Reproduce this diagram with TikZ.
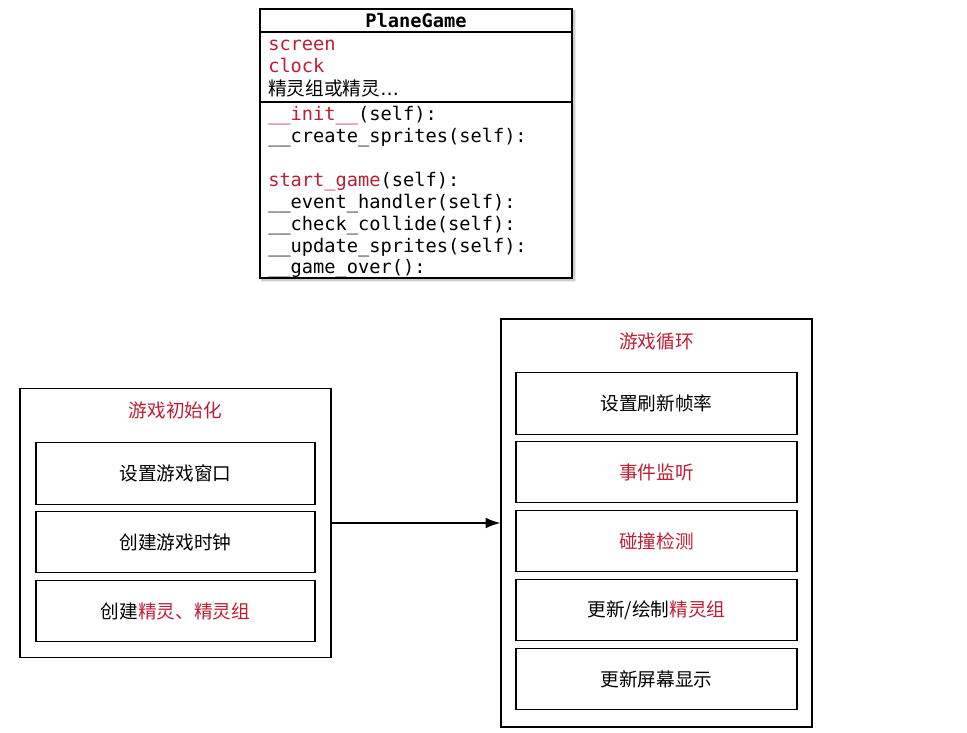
\documentclass[tikz,border=0pt]{standalone}
\usepackage{fontspec}
\setmonofont{DejaVu Sans Mono}
\newfontfamily\cjk{Noto Sans CJK SC}
\newfontfamily\ellfont{DejaVu Sans}
\usetikzlibrary{arrows.meta}
\definecolor{gamered}{RGB}{190,30,50}

\begin{document}
\begin{tikzpicture}[x=0.75pt,y=-0.75pt,
    code/.style={anchor=base west,inner sep=0pt,font=\ttfamily\fontsize{14}{16}\selectfont},
    outerbox/.style={draw,line width=1pt,minimum width=233.25pt,inner sep=0pt},
    stagebox/.style={draw,line width=1pt,minimum height=46.1pt,inner sep=0pt,font=\cjk\fontsize{14}{16}\selectfont},
    stagetitle/.style={text=gamered,inner sep=0pt,font=\cjk\fontsize{14}{16}\selectfont}]
    \useasboundingbox (0,0) rectangle (967,732);
    %class box with its shadow
    \fill[black,opacity=.08] (261,10) rectangle (576,282);
    \fill[black,opacity=.12] (261,10) rectangle (574.5,280.5);
    \fill[white] (260,9) rectangle (572,278);
    \node[code,anchor=base,font=\ttfamily\bfseries\fontsize{14}{16}\selectfont] (cls) at (416,27) {PlaneGame};
    \node[code,text=gamered] (screen) at (268,50) {screen};
    \node[code,text=gamered] (clock) at (268,72) {clock};
    \node[code,font=\cjk\fontsize{14}{16}\selectfont] (sprites) at (268,95) {精灵组或精灵{\ellfont…}};
    \node[code] (init) at (268,120) {\textcolor{gamered}{\_\_init\_\_}(self):};
    \node[code] (create) at (268,142) {\_\_create\_sprites(self):};
    \node[code] (start) at (268,186) {\textcolor{gamered}{start\_game}(self):};
    \node[code] (event) at (268,208) {\_\_event\_handler(self):};
    \node[code] (collide) at (268,230) {\_\_check\_collide(self):};
    \node[code] (update) at (268,252) {\_\_update\_sprites(self):};
    \node[code] (over) at (268,273) {\_\_game\_over():};
    \draw[line width=1pt] (260,9) rectangle (572,278);
    \draw[line width=1pt] (260,32) -- (572,32);
    \draw[line width=1pt] (260,102) -- (572,102);
    %game init
    \node[outerbox,minimum height=201.75pt] (gameinit) at (175.5,523) {};
    \node[stagetitle] (inittitle) at (175.5,410) {游戏初始化};
    \node[stagebox,minimum width=209.25pt] (window) at (175.5,473.5) {设置游戏窗口};
    \node[stagebox,minimum width=209.25pt] (clk) at (175.5,542) {创建游戏时钟};
    \node[stagebox,minimum width=209.25pt] (spr) at (175.5,611) {创建\textcolor{gamered}{精灵、精灵组}};
    %game loop
    \node[outerbox,minimum height=306pt] (gameloop) at (656.5,523) {};
    \node[stagetitle] (looptitle) at (656.5,341) {游戏循环};
    \node[stagebox,minimum width=210.75pt] (fps) at (656.5,403.5) {设置刷新帧率};
    \node[stagebox,minimum width=210.75pt,text=gamered] (listen) at (656.5,472) {事件监听};
    \node[stagebox,minimum width=210.75pt,text=gamered] (hit) at (656.5,541) {碰撞检测};
    \node[stagebox,minimum width=210.75pt] (draw) at (656.5,610) {更新/绘制\textcolor{gamered}{精灵组}};
    \node[stagebox,minimum width=210.75pt] (screenup) at (656.5,679) {更新屏幕显示};
    \draw[line width=1pt,-{Latex[length=11pt,width=8pt]}] (gameinit.east) -- (gameinit.east -| gameloop.west);
\end{tikzpicture}
\end{document}
